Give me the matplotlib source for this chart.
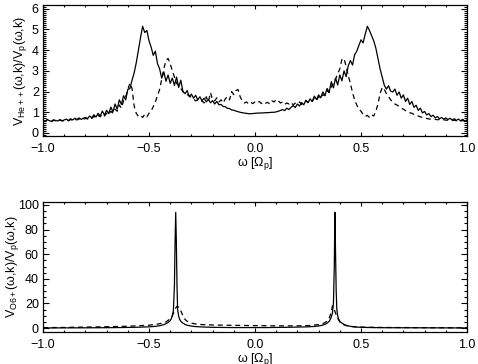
import numpy as np
import matplotlib
matplotlib.use("Agg")
import matplotlib.pyplot as plt
from matplotlib.ticker import MultipleLocator

plt.rcParams['font.family'] = ['Liberation Sans', 'DejaVu Sans']
plt.rcParams['mathtext.fontset'] = 'custom'
plt.rcParams['mathtext.rm'] = 'Liberation Sans'
plt.rcParams['mathtext.it'] = 'Liberation Sans'

# ---------------- top panel data (omega step 0.01 from -1 to 1) ----------------
omega_top = np.round(np.arange(-100, 101) * 0.01, 2)

he_solid = [
    0.62, 0.56, 0.66, 0.59, 0.57, 0.64, 0.60, 0.58, 0.65, 0.59, 0.63,
    0.67, 0.60, 0.69, 0.63, 0.71, 0.65, 0.73, 0.66, 0.71, 0.75,
    0.70, 0.82, 0.73, 0.88, 0.77, 0.95, 0.82, 1.06, 0.86, 1.10,
    0.93, 1.25, 1.02, 1.40, 1.15, 1.60, 1.38, 1.80, 1.60, 2.10,
    2.15, 2.55, 2.90, 3.40, 4.00, 4.60, 5.15, 4.85, 4.95, 4.45,
    4.15, 3.75, 3.95, 3.35, 3.10, 2.65, 2.95, 2.50, 2.80, 2.40,
    2.65, 2.30, 2.70, 2.20, 2.55, 2.00, 1.90, 2.05, 1.75, 1.88,
    1.68, 1.82, 1.60, 1.75, 1.56, 1.68, 1.50, 1.62, 1.46, 1.56,
    1.40, 1.52, 1.36, 1.38, 1.28, 1.27, 1.19, 1.18, 1.11, 1.10,
    1.06, 1.03, 1.00, 0.98, 0.96, 0.95, 0.93, 0.93, 0.94, 0.95,
    0.96, 0.96, 0.97, 0.97, 0.98, 0.98, 0.99, 1.00, 1.00, 1.02,
    1.05, 1.09, 1.13, 1.08, 1.20, 1.13, 1.24, 1.32, 1.23, 1.40,
    1.30, 1.47, 1.36, 1.58, 1.46, 1.65, 1.52, 1.78, 1.62, 1.84,
    1.70, 1.98, 1.82, 2.15, 1.98, 2.48, 2.18, 2.65, 2.32, 2.80,
    2.52, 3.00, 2.72, 3.25, 3.50, 3.28, 3.78, 3.95, 4.22, 4.50,
    4.35, 4.78, 5.15, 4.95, 4.70, 4.45, 4.10, 3.60, 3.10, 2.70,
    2.30, 2.12, 2.28, 2.02, 1.98, 2.12, 1.82, 1.98, 1.68, 1.84,
    1.52, 1.68, 1.38, 1.52, 1.24, 1.34, 1.09, 1.20, 0.97, 1.04,
    0.87, 0.94, 0.79, 0.86, 0.73, 0.80, 0.69, 0.75, 0.67, 0.73,
    0.65, 0.71, 0.63, 0.69, 0.61, 0.67, 0.59, 0.66, 0.57, 0.63,
]

he_dashed = [
    0.60, 0.56, 0.62, 0.58, 0.55, 0.61, 0.59, 0.57, 0.62, 0.58, 0.60,
    0.63, 0.59, 0.65, 0.61, 0.67, 0.63, 0.68, 0.64, 0.67, 0.70,
    0.68, 0.76, 0.70, 0.80, 0.74, 0.85, 0.78, 0.92, 0.82, 0.95,
    0.88, 1.05, 0.95, 1.15, 1.05, 1.35, 1.20, 1.55, 1.75, 2.10,
    2.40, 2.15, 1.30, 0.95, 0.80, 0.85, 0.75, 0.90, 0.78, 0.95,
    1.05, 1.27, 1.50, 1.80, 2.10, 2.60, 3.10, 3.50, 3.60, 3.35,
    3.00, 2.70, 2.40, 2.30, 2.15, 2.00, 1.90, 1.85, 1.80, 1.70,
    1.65, 1.55, 1.60, 1.50, 1.55, 1.45, 1.75, 1.50, 1.95, 1.60,
    1.55, 1.70, 1.50, 1.60, 1.45, 1.65, 1.75, 1.60, 2.00, 1.85,
    2.05, 2.10, 1.75, 1.55, 1.45, 1.50, 1.40, 1.48, 1.42, 1.50,
    1.45, 1.52, 1.42, 1.50, 1.44, 1.48, 1.40, 1.55, 1.50, 1.62,
    1.55, 1.45, 1.50, 1.38, 1.45, 1.40, 1.48, 1.36, 1.44, 1.40,
    1.50, 1.38, 1.45, 1.55, 1.48, 1.60, 1.52, 1.70, 1.58, 1.75,
    1.68, 1.85, 1.80, 2.05, 1.95, 2.25, 2.40, 2.60, 2.85, 3.10,
    3.55, 3.60, 3.20, 2.75, 2.40, 1.95, 1.60, 1.35, 1.15, 1.05,
    0.90, 0.80, 0.85, 0.75, 0.88, 0.82, 1.05, 1.40, 1.90, 2.20,
    2.10, 1.90, 1.75, 1.60, 1.50, 1.40, 1.35, 1.28, 1.20, 1.15,
    1.08, 1.02, 0.98, 0.95, 0.90, 0.85, 0.82, 0.78, 0.75, 0.73,
    0.70, 0.68, 0.67, 0.66, 0.66, 0.64, 0.65, 0.63, 0.64, 0.62,
    0.62, 0.63, 0.60, 0.62, 0.59, 0.61, 0.58, 0.60, 0.57, 0.60,
]

# ---------------- bottom panel data ----------------
omega_o_solid = [-1.0, -0.9, -0.8, -0.7, -0.6, -0.55, -0.5, -0.47, -0.45, -0.43,
                 -0.42, -0.41, -0.40, -0.395, -0.39, -0.385, -0.38, -0.377, -0.374,
                 -0.371, -0.368, -0.365, -0.36, -0.355, -0.35, -0.34, -0.33, -0.32,
                 -0.30, -0.28, -0.25, -0.2, -0.15, -0.1, -0.05, 0.0,
                 0.05, 0.1, 0.15, 0.2, 0.25, 0.28, 0.30, 0.32, 0.33, 0.34, 0.35,
                 0.355, 0.36, 0.365, 0.37, 0.374, 0.377, 0.380, 0.383, 0.386, 0.39,
                 0.395, 0.40, 0.41, 0.42, 0.43, 0.45, 0.47, 0.5, 0.55, 0.6, 0.7,
                 0.8, 0.9, 1.0]
o_solid = [0.1, 0.15, 0.2, 0.3, 0.5, 0.7, 1.0, 1.4, 1.9, 2.8,
           3.5, 4.5, 6.0, 7.5, 10.0, 14.0, 35.0, 70.0, 94.0,
           70.0, 35.0, 15.0, 9.5, 7.0, 5.5, 4.0, 3.0, 2.3,
           1.6, 1.2, 0.9, 0.6, 0.5, 0.4, 0.4, 0.4,
           0.4, 0.5, 0.6, 0.8, 1.0, 1.3, 1.7, 2.4, 3.0, 4.0, 5.5,
           7.0, 9.0, 12.0, 20.0, 50.0, 94.0, 60.0, 30.0, 15.0, 10.0,
           7.0, 5.5, 4.0, 3.0, 2.2, 1.4, 0.9, 0.6, 0.4, 0.3, 0.25,
           0.2, 0.15, 0.1]

omega_o_dashed = [-1.0, -0.9, -0.8, -0.7, -0.6, -0.5, -0.45, -0.42, -0.40, -0.39,
                  -0.38, -0.37, -0.36, -0.35, -0.34, -0.33, -0.32, -0.30, -0.28,
                  -0.25, -0.2, -0.1, 0.0, 0.1, 0.2, 0.25, 0.3, 0.32, 0.34, 0.35,
                  0.36, 0.365, 0.37, 0.38, 0.39, 0.40, 0.41, 0.43, 0.45, 0.5, 0.6,
                  0.7, 0.8, 1.0]
o_dashed = [0.3, 0.5, 0.8, 1.1, 1.5, 2.3, 3.5, 5.0, 7.5, 10.0,
            14.0, 17.5, 17.0, 14.0, 10.0, 7.0, 5.5, 4.0, 3.3,
            2.8, 2.5, 2.2, 2.0, 1.8, 1.8, 2.0, 2.8, 3.5, 5.5, 8.0,
            13.0, 18.0, 17.0, 12.0, 8.0, 5.0, 3.2, 2.0, 1.3, 0.8, 0.5,
            0.4, 0.3, 0.2]

xticks = [-1.0, -0.5, 0.0, 0.5, 1.0]
xticklabels = ['\u22121.0', '\u22120.5', '0.0', '0.5', '1.0']

W, H = 478, 364
fig = plt.figure(figsize=(W / 100, H / 100), dpi=100)

def axes_px(l, t, r, b):
    return fig.add_axes([l / W, 1 - b / H, (r - l) / W, (b - t) / H])

ax1 = axes_px(43, 5, 467, 136)
ax2 = axes_px(43, 202, 467, 332)

dash = (0, (4, 3))
lw = 0.9
ax1.plot(omega_top, he_solid, color='black', lw=lw)
ax1.plot(omega_top, he_dashed, color='black', lw=lw, linestyle=dash)
ax2.plot(omega_o_solid, o_solid, color='black', lw=lw)
ax2.plot(omega_o_dashed, o_dashed, color='black', lw=lw, linestyle=dash)

ax1.set_ylim(-0.145, 6.18)
ax1.set_yticks([0, 1, 2, 3, 4, 5, 6])
ax1.yaxis.set_minor_locator(MultipleLocator(0.1))
ax2.set_ylim(-3.2, 102.4)
ax2.set_yticks([0, 20, 40, 60, 80, 100])
ax2.yaxis.set_minor_locator(MultipleLocator(5))

for ax in (ax1, ax2):
    ax.set_xlim(-1.0, 1.0)
    ax.set_xticks(xticks)
    ax.set_xticklabels(xticklabels)
    ax.xaxis.set_minor_locator(MultipleLocator(0.1))
    ax.tick_params(axis='both', which='both', direction='in', top=True, right=True,
                   labelsize=9, width=0.8, colors='black')
    ax.tick_params(axis='y', which='major', length=4.5)
    ax.tick_params(axis='y', which='minor', length=2.2)
    ax.tick_params(axis='x', which='major', length=3.0)
    ax.tick_params(axis='x', which='minor', length=1.6)
    ax.tick_params(axis='x', pad=5)
    ax.tick_params(axis='y', pad=3)
    for s in ax.spines.values():
        s.set_linewidth(0.9)
    ax.set_xlabel('\u03c9 [\u03a9$_{\\rm p}$]', fontsize=9, labelpad=0)

ax1.set_ylabel('V$_{\\rm He++}$(\u03c9,k)/V$_{\\rm p}$(\u03c9,k)', fontsize=9, labelpad=2)
ax2.set_ylabel('V$_{\\rm O6+}$(\u03c9,k)/V$_{\\rm p}$(\u03c9,k)', fontsize=9)
ax2.yaxis.set_label_coords(-0.052, 0.5)

fig.savefig('out.png', dpi=100)
